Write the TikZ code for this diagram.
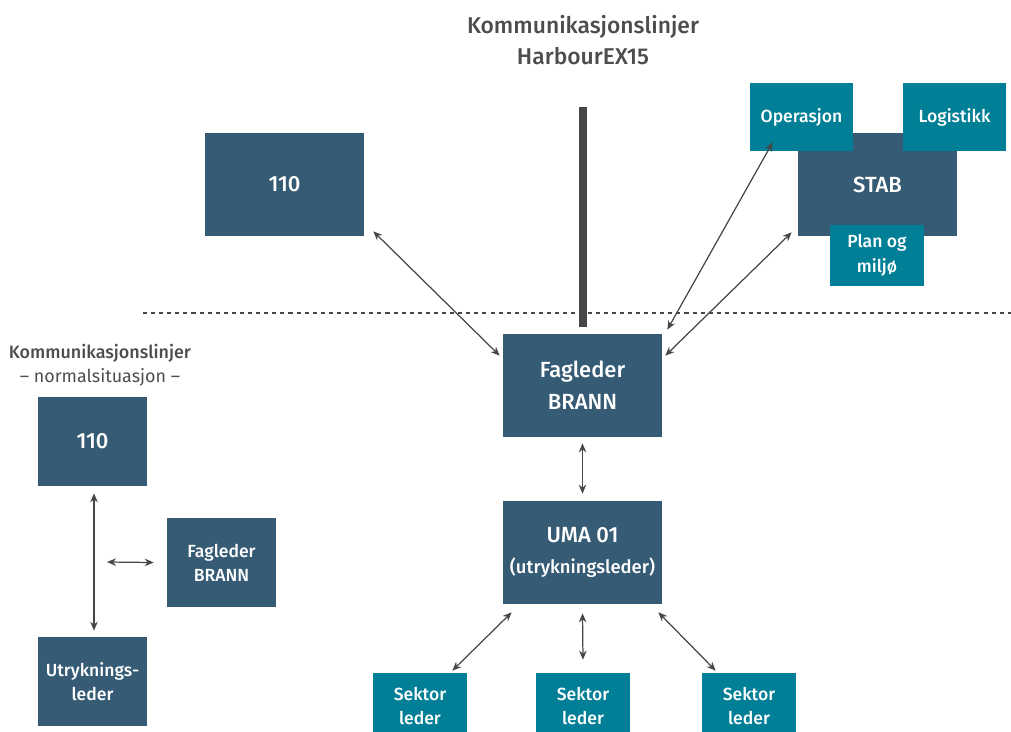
\documentclass[tikz,border=0pt]{standalone}
\usepackage{fontspec}
\setmainfont{Fira Sans}
\newfontfamily\firamed{Fira Sans Medium}
\usetikzlibrary{arrows.meta}
\definecolor{boxblue}{HTML}{365B74}
\definecolor{boxteal}{HTML}{007F96}
\definecolor{pilgra}{HTML}{464646}
\definecolor{tekstgra}{HTML}{4D4D4D}
\tikzset{
  boks/.style={fill=boxblue, text=white, align=center, inner sep=0pt},
  stor/.style={boks, minimum width=3.18cm, minimum height=2.06cm, font=\firamed\fontsize{12.5}{18}\selectfont},
  liten/.style={boks, minimum width=2.18cm, minimum height=1.78cm, font=\firamed\fontsize{10}{13.6}\selectfont},
  gruppe/.style={fill=boxteal, text=white, align=center, inner sep=0pt, font=\firamed\fontsize{10}{14}\selectfont},
  pil/.style={draw=pilgra, line width=0.7pt, {Stealth[length=1.8mm,width=1.5mm]}-{Stealth[length=1.8mm,width=1.5mm]}}
}
\begin{document}
\begin{tikzpicture}[x=0.02cm,y=-0.02cm]
\useasboundingbox (0,0) rectangle (1011,731);
\node[text=tekstgra, align=center, font=\firamed\fontsize{13}{17.7}\selectfont] (tittel) at (583,40) {Kommunikasjonslinjer\\HarbourEX15};
\draw[pilgra, line width=0.16cm] (583,107) -- (583,327);
\draw[pilgra, line width=0.8pt, dash pattern=on 2.3pt off 2.3pt] (143,313) -- (1011,313);
\node[stor] (t110) at (284.5,184.5) {110};
\node[stor] (stab) at (877.5,184.5) {STAB};
\node[gruppe, minimum width=2.06cm, minimum height=1.36cm] (ops) at (801.5,117) {Operasjon};
\node[gruppe, minimum width=2.06cm, minimum height=1.36cm] (log) at (954.5,117) {Logistikk};
\node[gruppe, minimum width=1.88cm, minimum height=1.22cm] (plan) at (877,255.5) {Plan og\\milj\o};
\node[stor] (fag) at (582.5,385.5) {Fagleder\\BRANN};
\node[stor] (uma) at (582.5,552.5) {UMA 01\\{\fontsize{10.5}{14}\selectfont(utrykningsleder)}};
\node[gruppe, minimum width=1.88cm, minimum height=1.32cm] (sek1) at (420,706) {Sektor\\leder};
\node[gruppe, minimum width=1.88cm, minimum height=1.32cm] (sek2) at (583,706) {Sektor\\leder};
\node[gruppe, minimum width=1.88cm, minimum height=1.32cm] (sek3) at (749,706) {Sektor\\leder};
\draw[pil] ([shift={(9,-5)}]t110.south east) -- ([shift={(-3,22)}]fag.north west);
\draw[pil] ([shift={(23,-9)}]ops.south west) -- ([shift={(5,-4)}]fag.north east);
\draw[pil] ([shift={(-6,-4)}]stab.south west) -- ([shift={(3,22)}]fag.north east);
\draw[pil] ([shift={(0,6)}]fag.south) -- ([shift={(0,-7)}]uma.north);
\draw[pil] ([shift={(9,8)}]uma.south west) -- ([shift={(-15,-2)}]sek1.north east);
\draw[pil] ([shift={(0,9)}]uma.south) -- ([shift={(0,-13)}]sek2.north);
\draw[pil] ([shift={(-4,8)}]uma.south east) -- ([shift={(14,-2)}]sek3.north west);
\node[text=tekstgra, align=center, font=\fontsize{10.2}{13.7}\selectfont] (normal) at (100,365) {{\firamed Kommunikasjonslinjer}\\– normalsituasjon –};
\node[liten] (l110) at (92.5,441.5) {\fontsize{12.5}{15}\selectfont 110};
\node[liten] (lfag) at (221.5,562.5) {Fagleder\\BRANN};
\node[liten] (lutr) at (92.5,681.5) {Utryknings-\\leder};
\coordinate (lmid) at (94,562);
\draw[pil] ([shift={(1.5,7)}]l110.south) -- ([shift={(1.5,-6)}]lutr.north);
\draw[pil] ([shift={(13,0)}]lmid) -- ([shift={(-13,0)}]lfag.west);
\end{tikzpicture}
\end{document}
